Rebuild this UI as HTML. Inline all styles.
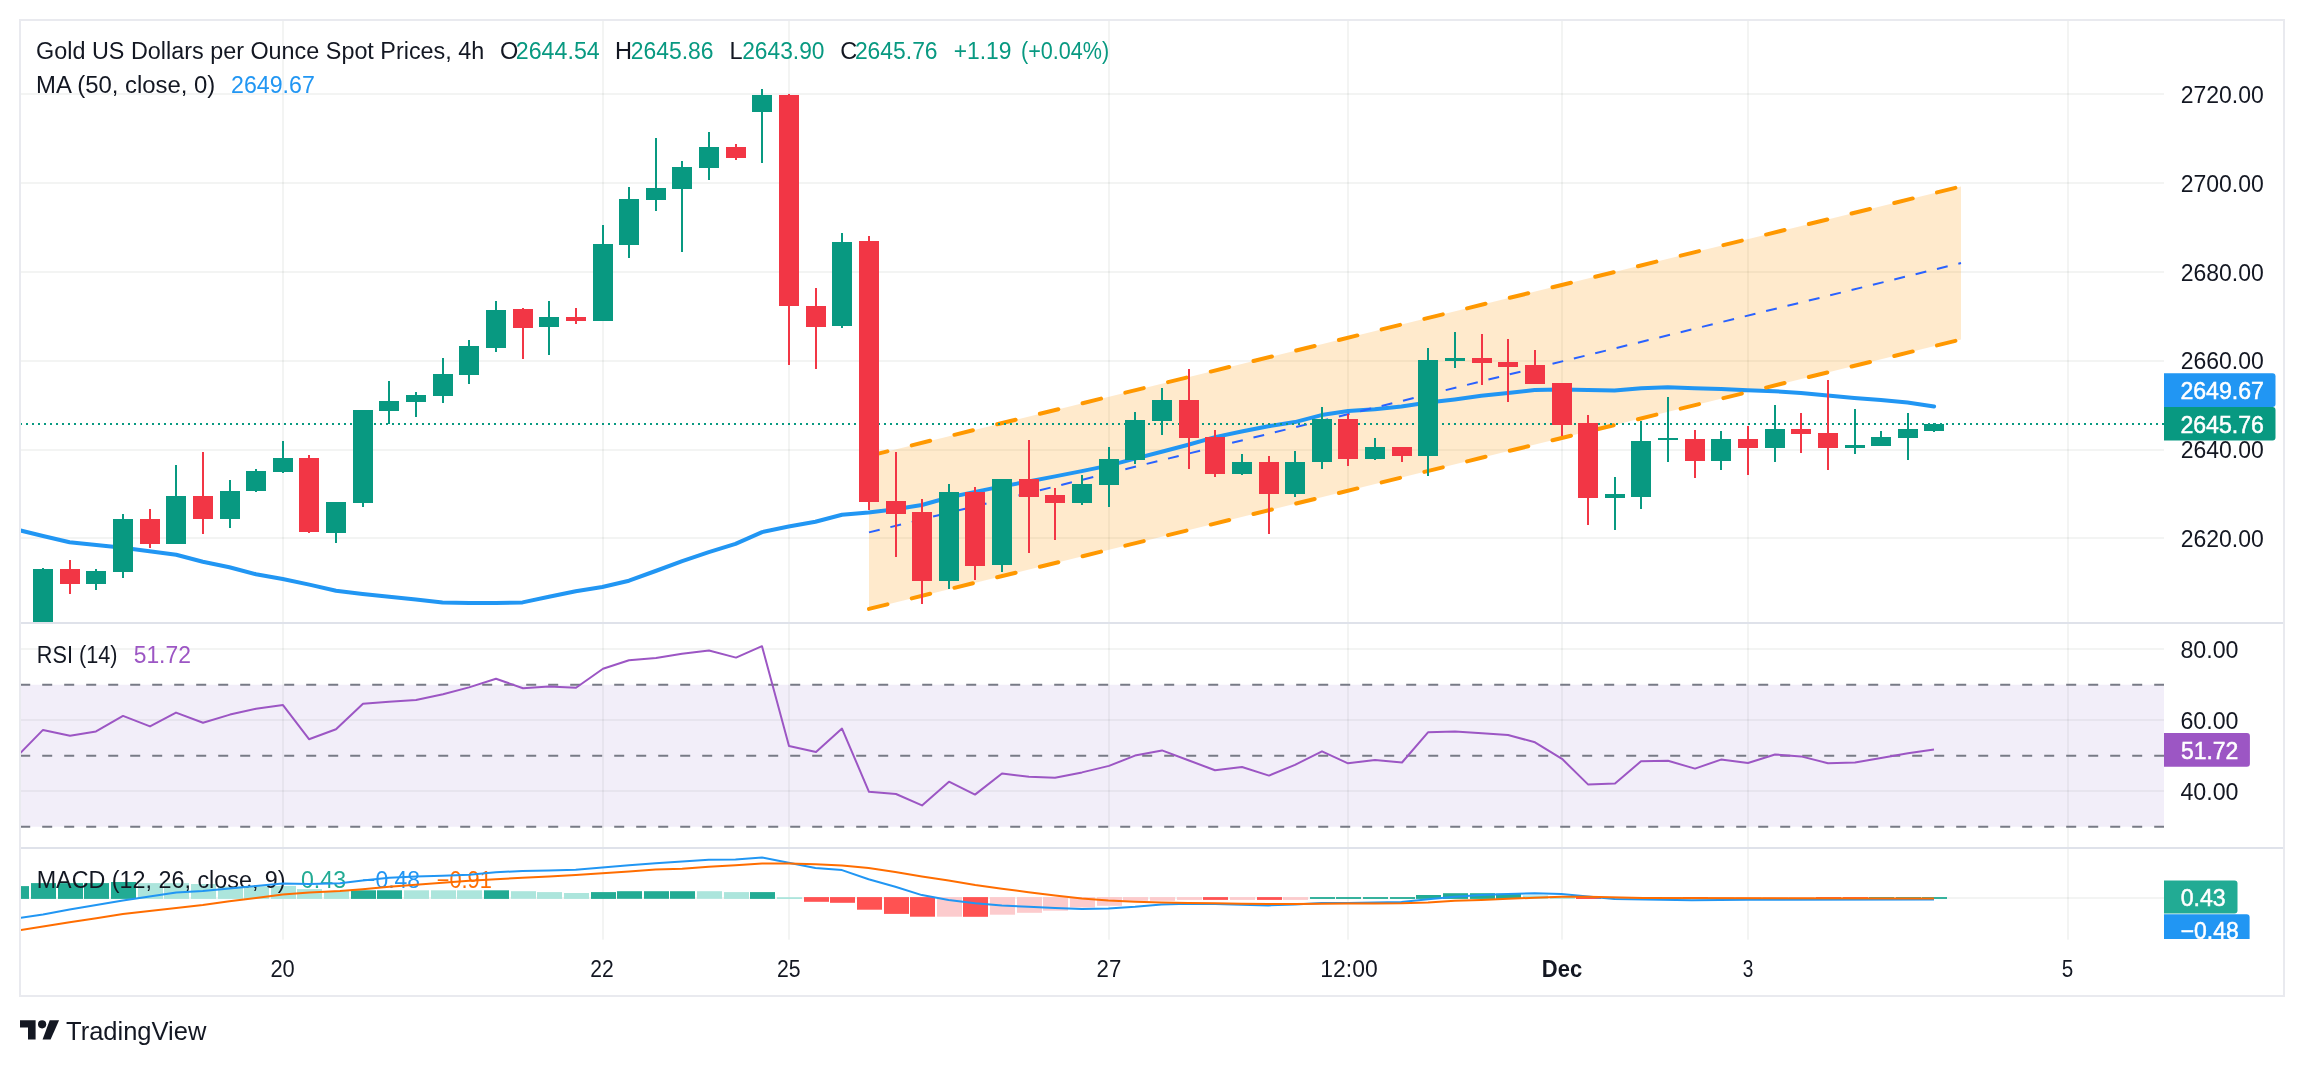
<!DOCTYPE html><html><head><meta charset="utf-8"><style>html,body{margin:0;padding:0;background:#fff;width:2304px;height:1066px;overflow:hidden}svg{display:block;font-family:"Liberation Sans", sans-serif;will-change:transform}</style></head><body>
<svg width="2304" height="1066" viewBox="0 0 2304 1066">
<rect x="0" y="0" width="2304" height="1066" fill="#ffffff"/>
<defs><clipPath id="cMain"><rect x="21" y="21" width="2143" height="601"/></clipPath><clipPath id="cRsi"><rect x="21" y="624" width="2143" height="223"/></clipPath><clipPath id="cMacd"><rect x="21" y="849" width="2143" height="90"/></clipPath><clipPath id="cMacdAxis"><rect x="2164" y="849" width="119" height="90"/></clipPath></defs>
<g fill="#1E3228" fill-opacity="0.056"><rect x="282" y="21" width="2" height="918.7"/><rect x="602" y="21" width="2" height="918.7"/><rect x="788" y="21" width="2" height="918.7"/><rect x="1108" y="21" width="2" height="918.7"/><rect x="1347" y="21" width="2" height="918.7"/><rect x="1561" y="21" width="2" height="918.7"/><rect x="1747" y="21" width="2" height="918.7"/><rect x="2067" y="21" width="2" height="918.7"/><rect x="21" y="93" width="2143" height="2"/><rect x="21" y="182" width="2143" height="2"/><rect x="21" y="271" width="2143" height="2"/><rect x="21" y="360" width="2143" height="2"/><rect x="21" y="449" width="2143" height="2"/><rect x="21" y="537" width="2143" height="2"/><rect x="21" y="648" width="2143" height="2"/><rect x="21" y="719" width="2143" height="2"/><rect x="21" y="790" width="2143" height="2"/><rect x="21" y="897" width="2143" height="2"/></g>
<g clip-path="url(#cMain)">
<polygon points="869.0,455.9 1961.0,186.5 1961.0,339.5 869.0,608.9" fill="#FF9800" fill-opacity="0.2"/>
<polyline points="20.0,530.4 43.0,536.0 69.6,542.2 96.3,545.0 122.9,547.8 149.5,551.2 176.2,554.7 202.8,561.7 229.4,567.2 256.0,574.2 282.7,579.0 309.3,584.6 336.0,590.8 362.6,594.0 389.2,596.8 415.9,599.6 442.5,602.4 469.2,603.0 495.8,603.0 522.5,602.4 549.0,596.8 575.7,591.2 602.3,587.0 629.0,580.7 655.6,571.0 682.2,561.2 708.8,552.2 735.5,543.9 762.1,532.1 788.7,526.5 815.4,521.7 842.0,514.7 868.6,512.6 895.3,509.2 921.9,505.0 948.6,497.5 975.2,491.9 1001.9,486.4 1028.5,481.5 1055.1,476.4 1081.8,471.1 1108.4,465.6 1135.1,458.6 1161.7,451.7 1188.3,444.7 1215.0,437.1 1241.6,431.5 1268.3,426.2 1294.9,422.1 1321.5,415.1 1348.2,411.0 1374.8,409.2 1401.4,406.4 1428.1,402.6 1454.7,399.4 1481.3,395.7 1508.0,392.9 1534.6,390.1 1561.3,389.4 1587.9,390.0 1614.5,390.6 1641.2,388.3 1667.8,387.3 1694.4,388.3 1721.1,389.0 1747.7,390.3 1774.3,391.2 1801.0,392.9 1827.6,395.4 1854.2,397.9 1880.9,400.1 1907.5,402.5 1934.1,406.4" fill="none" stroke="#2196F3" stroke-width="4" stroke-linejoin="round" stroke-linecap="round"/>
<line x1="869" y1="455.9" x2="1961" y2="186.5" stroke="#FF9800" stroke-width="4" stroke-linecap="round" stroke-dasharray="19 25"/>
<line x1="869" y1="608.9" x2="1961" y2="339.5" stroke="#FF9800" stroke-width="4" stroke-linecap="round" stroke-dasharray="19 25"/>
<line x1="869" y1="532.4" x2="1961" y2="263.0" stroke="#2962FF" stroke-width="2" stroke-dasharray="11 11"/>
<line x1="20" y1="424" x2="2164" y2="424" stroke="#089981" stroke-width="2" stroke-dasharray="2 4"/>
<rect x="42" y="568" width="2" height="72" fill="#089981"/><rect x="33" y="569" width="20" height="71" fill="#089981"/><rect x="69" y="560" width="2" height="34" fill="#F23645"/><rect x="60" y="569" width="20" height="15" fill="#F23645"/><rect x="95" y="569" width="2" height="21" fill="#089981"/><rect x="86" y="571" width="20" height="13" fill="#089981"/><rect x="122" y="514" width="2" height="64" fill="#089981"/><rect x="113" y="519" width="20" height="53" fill="#089981"/><rect x="149" y="509" width="2" height="39" fill="#F23645"/><rect x="140" y="519" width="20" height="25" fill="#F23645"/><rect x="175" y="465" width="2" height="79" fill="#089981"/><rect x="166" y="496" width="20" height="48" fill="#089981"/><rect x="202" y="452" width="2" height="82" fill="#F23645"/><rect x="193" y="496" width="20" height="23" fill="#F23645"/><rect x="229" y="480" width="2" height="48" fill="#089981"/><rect x="220" y="491" width="20" height="28" fill="#089981"/><rect x="255" y="469" width="2" height="23" fill="#089981"/><rect x="246" y="471" width="20" height="20" fill="#089981"/><rect x="282" y="441" width="2" height="32" fill="#089981"/><rect x="273" y="458" width="20" height="14" fill="#089981"/><rect x="308" y="455" width="2" height="78" fill="#F23645"/><rect x="299" y="458" width="20" height="74" fill="#F23645"/><rect x="335" y="502" width="2" height="41" fill="#089981"/><rect x="326" y="502" width="20" height="31" fill="#089981"/><rect x="362" y="410" width="2" height="97" fill="#089981"/><rect x="353" y="410" width="20" height="93" fill="#089981"/><rect x="388" y="381" width="2" height="43" fill="#089981"/><rect x="379" y="401" width="20" height="10" fill="#089981"/><rect x="415" y="392" width="2" height="25" fill="#089981"/><rect x="406" y="395" width="20" height="7" fill="#089981"/><rect x="442" y="358" width="2" height="45" fill="#089981"/><rect x="433" y="374" width="20" height="22" fill="#089981"/><rect x="468" y="340" width="2" height="44" fill="#089981"/><rect x="459" y="346" width="20" height="29" fill="#089981"/><rect x="495" y="301" width="2" height="51" fill="#089981"/><rect x="486" y="310" width="20" height="38" fill="#089981"/><rect x="522" y="308" width="2" height="51" fill="#F23645"/><rect x="513" y="309" width="20" height="19" fill="#F23645"/><rect x="548" y="301" width="2" height="54" fill="#089981"/><rect x="539" y="317" width="20" height="10" fill="#089981"/><rect x="575" y="308" width="2" height="16" fill="#F23645"/><rect x="566" y="317" width="20" height="4" fill="#F23645"/><rect x="602" y="225" width="2" height="96" fill="#089981"/><rect x="593" y="244" width="20" height="77" fill="#089981"/><rect x="628" y="187" width="2" height="71" fill="#089981"/><rect x="619" y="199" width="20" height="46" fill="#089981"/><rect x="655" y="138" width="2" height="73" fill="#089981"/><rect x="646" y="188" width="20" height="12" fill="#089981"/><rect x="681" y="161" width="2" height="91" fill="#089981"/><rect x="672" y="167" width="20" height="22" fill="#089981"/><rect x="708" y="132" width="2" height="48" fill="#089981"/><rect x="699" y="147" width="20" height="21" fill="#089981"/><rect x="735" y="144" width="2" height="16" fill="#F23645"/><rect x="726" y="147" width="20" height="11" fill="#F23645"/><rect x="761" y="89" width="2" height="74" fill="#089981"/><rect x="752" y="95" width="20" height="17" fill="#089981"/><rect x="788" y="94" width="2" height="271" fill="#F23645"/><rect x="779" y="95" width="20" height="211" fill="#F23645"/><rect x="815" y="288" width="2" height="81" fill="#F23645"/><rect x="806" y="306" width="20" height="21" fill="#F23645"/><rect x="841" y="233" width="2" height="95" fill="#089981"/><rect x="832" y="242" width="20" height="84" fill="#089981"/><rect x="868" y="236" width="2" height="274" fill="#F23645"/><rect x="859" y="241" width="20" height="261" fill="#F23645"/><rect x="895" y="452" width="2" height="105" fill="#F23645"/><rect x="886" y="501" width="20" height="13" fill="#F23645"/><rect x="921" y="499" width="2" height="105" fill="#F23645"/><rect x="912" y="512" width="20" height="69" fill="#F23645"/><rect x="948" y="484" width="2" height="105" fill="#089981"/><rect x="939" y="492" width="20" height="89" fill="#089981"/><rect x="974" y="487" width="2" height="93" fill="#F23645"/><rect x="965" y="492" width="20" height="74" fill="#F23645"/><rect x="1001" y="479" width="2" height="93" fill="#089981"/><rect x="992" y="479" width="20" height="86" fill="#089981"/><rect x="1028" y="440" width="2" height="113" fill="#F23645"/><rect x="1019" y="479" width="20" height="18" fill="#F23645"/><rect x="1054" y="488" width="2" height="52" fill="#F23645"/><rect x="1045" y="495" width="20" height="8" fill="#F23645"/><rect x="1081" y="475" width="2" height="30" fill="#089981"/><rect x="1072" y="484" width="20" height="19" fill="#089981"/><rect x="1108" y="447" width="2" height="60" fill="#089981"/><rect x="1099" y="459" width="20" height="26" fill="#089981"/><rect x="1134" y="412" width="2" height="52" fill="#089981"/><rect x="1125" y="420" width="20" height="40" fill="#089981"/><rect x="1161" y="388" width="2" height="47" fill="#089981"/><rect x="1152" y="400" width="20" height="21" fill="#089981"/><rect x="1188" y="369" width="2" height="100" fill="#F23645"/><rect x="1179" y="400" width="20" height="38" fill="#F23645"/><rect x="1214" y="430" width="2" height="47" fill="#F23645"/><rect x="1205" y="437" width="20" height="37" fill="#F23645"/><rect x="1241" y="454" width="2" height="21" fill="#089981"/><rect x="1232" y="462" width="20" height="12" fill="#089981"/><rect x="1268" y="456" width="2" height="78" fill="#F23645"/><rect x="1259" y="462" width="20" height="32" fill="#F23645"/><rect x="1294" y="451" width="2" height="46" fill="#089981"/><rect x="1285" y="462" width="20" height="32" fill="#089981"/><rect x="1321" y="407" width="2" height="62" fill="#089981"/><rect x="1312" y="419" width="20" height="43" fill="#089981"/><rect x="1347" y="414" width="2" height="52" fill="#F23645"/><rect x="1338" y="419" width="20" height="40" fill="#F23645"/><rect x="1374" y="438" width="2" height="22" fill="#089981"/><rect x="1365" y="447" width="20" height="12" fill="#089981"/><rect x="1401" y="447" width="2" height="15" fill="#F23645"/><rect x="1392" y="447" width="20" height="9" fill="#F23645"/><rect x="1427" y="348" width="2" height="128" fill="#089981"/><rect x="1418" y="360" width="20" height="96" fill="#089981"/><rect x="1454" y="332" width="2" height="36" fill="#089981"/><rect x="1445" y="358" width="20" height="3" fill="#089981"/><rect x="1481" y="334" width="2" height="51" fill="#F23645"/><rect x="1472" y="358" width="20" height="5" fill="#F23645"/><rect x="1507" y="339" width="2" height="63" fill="#F23645"/><rect x="1498" y="362" width="20" height="5" fill="#F23645"/><rect x="1534" y="350" width="2" height="34" fill="#F23645"/><rect x="1525" y="365" width="20" height="19" fill="#F23645"/><rect x="1561" y="383" width="2" height="53" fill="#F23645"/><rect x="1552" y="383" width="20" height="42" fill="#F23645"/><rect x="1587" y="415" width="2" height="110" fill="#F23645"/><rect x="1578" y="423" width="20" height="75" fill="#F23645"/><rect x="1614" y="477" width="2" height="53" fill="#089981"/><rect x="1605" y="494" width="20" height="4" fill="#089981"/><rect x="1640" y="421" width="2" height="88" fill="#089981"/><rect x="1631" y="441" width="20" height="56" fill="#089981"/><rect x="1667" y="397" width="2" height="65" fill="#089981"/><rect x="1658" y="438" width="20" height="2" fill="#089981"/><rect x="1694" y="430" width="2" height="48" fill="#F23645"/><rect x="1685" y="439" width="20" height="22" fill="#F23645"/><rect x="1720" y="431" width="2" height="39" fill="#089981"/><rect x="1711" y="439" width="20" height="22" fill="#089981"/><rect x="1747" y="426" width="2" height="49" fill="#F23645"/><rect x="1738" y="439" width="20" height="9" fill="#F23645"/><rect x="1774" y="405" width="2" height="57" fill="#089981"/><rect x="1765" y="429" width="20" height="19" fill="#089981"/><rect x="1800" y="413" width="2" height="40" fill="#F23645"/><rect x="1791" y="429" width="20" height="5" fill="#F23645"/><rect x="1827" y="380" width="2" height="90" fill="#F23645"/><rect x="1818" y="433" width="20" height="15" fill="#F23645"/><rect x="1854" y="409" width="2" height="45" fill="#089981"/><rect x="1845" y="445" width="20" height="3" fill="#089981"/><rect x="1880" y="431" width="2" height="15" fill="#089981"/><rect x="1871" y="437" width="20" height="9" fill="#089981"/><rect x="1907" y="413" width="2" height="47" fill="#089981"/><rect x="1898" y="429" width="20" height="9" fill="#089981"/><rect x="1933" y="423" width="2" height="9" fill="#089981"/><rect x="1924" y="424" width="20" height="7" fill="#089981"/>
</g>
<g clip-path="url(#cRsi)">
<rect x="21" y="684.8" width="2143" height="142" fill="#7E57C2" fill-opacity="0.1"/>
<line x1="20.2" y1="684.8" x2="2164" y2="684.8" stroke="#787B86" stroke-width="2" stroke-dasharray="10 12"/>
<line x1="20.2" y1="755.8" x2="2164" y2="755.8" stroke="#787B86" stroke-width="2" stroke-dasharray="10 12"/>
<line x1="20.2" y1="826.8" x2="2164" y2="826.8" stroke="#787B86" stroke-width="2" stroke-dasharray="10 12"/>
<polyline points="20.0,753.4 43.0,729.9 70.0,735.7 96.0,731.4 123.0,715.9 150.0,726.4 176.0,712.6 203.0,722.8 230.0,714.6 256.0,708.7 283.0,705.1 309.0,739.2 336.0,729.2 363.0,703.8 389.0,701.8 416.0,700.1 443.0,694.3 469.0,687.4 496.0,678.7 523.0,688.3 549.0,686.5 576.0,687.8 603.0,668.8 629.0,660.2 656.0,658.0 682.0,653.7 709.0,650.5 736.0,657.6 762.0,646.2 789.0,745.9 816.0,751.9 842.0,728.6 869.0,791.8 896.0,794.0 922.0,805.4 949.0,781.7 975.0,794.6 1002.0,773.5 1029.0,776.7 1055.0,777.8 1082.0,772.4 1109.0,765.9 1135.0,755.6 1162.0,750.4 1189.0,760.5 1215.0,770.2 1242.0,767.0 1269.0,775.6 1295.0,764.8 1322.0,751.3 1348.0,763.3 1375.0,759.9 1402.0,762.5 1428.0,732.3 1455.0,731.6 1482.0,733.3 1508.0,735.0 1535.0,742.3 1562.0,758.8 1588.0,784.4 1615.0,783.6 1641.0,761.3 1668.0,760.8 1695.0,768.6 1721.0,759.6 1748.0,763.0 1775.0,754.5 1801.0,756.4 1828.0,763.2 1855.0,762.5 1881.0,758.1 1908.0,753.2 1934.0,749.6" fill="none" stroke="#9C56C4" stroke-width="2" stroke-linejoin="round"/>
</g>
<g clip-path="url(#cMacd)">
<rect x="4.0" y="886.1" width="25" height="12.8" fill="#22AB94"/><rect x="31.0" y="883.1" width="25" height="15.8" fill="#22AB94"/><rect x="58.0" y="883.1" width="25" height="15.8" fill="#22AB94"/><rect x="84.0" y="883.1" width="25" height="15.8" fill="#22AB94"/><rect x="111.0" y="882.0" width="25" height="16.9" fill="#22AB94"/><rect x="138.0" y="883.1" width="25" height="15.8" fill="#ACE5DC"/><rect x="164.0" y="883.1" width="25" height="15.8" fill="#ACE5DC"/><rect x="191.0" y="884.0" width="25" height="14.9" fill="#ACE5DC"/><rect x="218.0" y="886.5" width="25" height="12.4" fill="#ACE5DC"/><rect x="244.0" y="886.3" width="25" height="12.6" fill="#ACE5DC"/><rect x="271.0" y="885.9" width="25" height="13.0" fill="#ACE5DC"/><rect x="297.0" y="889.1" width="25" height="9.8" fill="#ACE5DC"/><rect x="324.0" y="891.0" width="25" height="7.9" fill="#ACE5DC"/><rect x="351.0" y="890.3" width="25" height="8.6" fill="#22AB94"/><rect x="377.0" y="890.3" width="25" height="8.6" fill="#22AB94"/><rect x="404.0" y="890.3" width="25" height="8.6" fill="#ACE5DC"/><rect x="431.0" y="890.3" width="25" height="8.6" fill="#ACE5DC"/><rect x="457.0" y="890.3" width="25" height="8.6" fill="#ACE5DC"/><rect x="484.0" y="890.3" width="25" height="8.6" fill="#22AB94"/><rect x="511.0" y="891.2" width="25" height="7.6" fill="#ACE5DC"/><rect x="537.0" y="892.1" width="25" height="6.8" fill="#ACE5DC"/><rect x="564.0" y="893.0" width="25" height="5.9" fill="#ACE5DC"/><rect x="591.0" y="892.1" width="25" height="6.8" fill="#22AB94"/><rect x="617.0" y="891.2" width="25" height="7.6" fill="#22AB94"/><rect x="644.0" y="891.2" width="25" height="7.6" fill="#22AB94"/><rect x="670.0" y="891.2" width="25" height="7.6" fill="#22AB94"/><rect x="697.0" y="891.2" width="25" height="7.6" fill="#ACE5DC"/><rect x="724.0" y="892.1" width="25" height="6.8" fill="#ACE5DC"/><rect x="750.0" y="892.1" width="25" height="6.8" fill="#22AB94"/><rect x="777.0" y="897.2" width="25" height="1.8" fill="#ACE5DC"/><rect x="804.0" y="897.1" width="25" height="4.7" fill="#FF5252"/><rect x="830.0" y="897.1" width="25" height="5.7" fill="#FF5252"/><rect x="857.0" y="897.1" width="25" height="12.6" fill="#FF5252"/><rect x="884.0" y="897.1" width="25" height="16.8" fill="#FF5252"/><rect x="910.0" y="897.1" width="25" height="19.6" fill="#FF5252"/><rect x="937.0" y="897.1" width="25" height="19.6" fill="#FCCBCD"/><rect x="963.0" y="897.1" width="25" height="19.7" fill="#FF5252"/><rect x="990.0" y="897.1" width="25" height="17.6" fill="#FCCBCD"/><rect x="1017.0" y="897.1" width="25" height="15.7" fill="#FCCBCD"/><rect x="1043.0" y="897.1" width="25" height="13.6" fill="#FCCBCD"/><rect x="1070.0" y="897.1" width="25" height="10.4" fill="#FCCBCD"/><rect x="1097.0" y="897.1" width="25" height="8.7" fill="#FCCBCD"/><rect x="1123.0" y="897.1" width="25" height="3.7" fill="#FCCBCD"/><rect x="1150.0" y="897.1" width="25" height="3.7" fill="#FCCBCD"/><rect x="1177.0" y="897.1" width="25" height="2.8" fill="#FCCBCD"/><rect x="1203.0" y="897.1" width="25" height="2.8" fill="#FF5252"/><rect x="1230.0" y="897.1" width="25" height="2.8" fill="#FCCBCD"/><rect x="1257.0" y="897.1" width="25" height="2.8" fill="#FF5252"/><rect x="1283.0" y="897.1" width="25" height="2.8" fill="#FCCBCD"/><rect x="1310.0" y="897.1" width="25" height="1.8" fill="#22AB94"/><rect x="1336.0" y="897.1" width="25" height="1.8" fill="#22AB94"/><rect x="1363.0" y="897.1" width="25" height="1.8" fill="#22AB94"/><rect x="1390.0" y="897.1" width="25" height="1.8" fill="#22AB94"/><rect x="1416.0" y="895.0" width="25" height="3.9" fill="#22AB94"/><rect x="1443.0" y="893.2" width="25" height="5.7" fill="#22AB94"/><rect x="1470.0" y="893.2" width="25" height="5.7" fill="#22AB94"/><rect x="1496.0" y="893.6" width="25" height="5.3" fill="#22AB94"/><rect x="1523.0" y="895.4" width="25" height="3.5" fill="#ACE5DC"/><rect x="1550.0" y="896.1" width="25" height="2.8" fill="#ACE5DC"/><rect x="1576.0" y="897.1" width="25" height="1.9" fill="#FF5252"/><rect x="1603.0" y="897.1" width="25" height="1.9" fill="#FCCBCD"/><rect x="1629.0" y="897.1" width="25" height="1.9" fill="#FCCBCD"/><rect x="1656.0" y="897.1" width="25" height="1.9" fill="#FCCBCD"/><rect x="1683.0" y="897.1" width="25" height="1.9" fill="#FF5252"/><rect x="1709.0" y="897.1" width="25" height="1.9" fill="#FCCBCD"/><rect x="1736.0" y="897.1" width="25" height="1.9" fill="#FCCBCD"/><rect x="1763.0" y="897.1" width="25" height="1.9" fill="#FCCBCD"/><rect x="1789.0" y="897.1" width="25" height="1.9" fill="#FCCBCD"/><rect x="1816.0" y="897.1" width="25" height="1.9" fill="#FF5252"/><rect x="1843.0" y="897.1" width="25" height="1.9" fill="#FF5252"/><rect x="1869.0" y="897.1" width="25" height="1.8" fill="#22AB94"/><rect x="1896.0" y="897.1" width="25" height="1.8" fill="#22AB94"/><rect x="1922.0" y="897.1" width="25" height="1.8" fill="#22AB94"/>
</g>
<text x="36.7" y="887.5" fill="#131722" font-size="23.5" text-anchor="start" textLength="248.9" lengthAdjust="spacingAndGlyphs" >MACD (12, 26, close, 9)</text>
<text x="301.0" y="887.5" fill="#22AB94" font-size="23.5" text-anchor="start" textLength="45.0" lengthAdjust="spacingAndGlyphs" >0.43</text>
<text x="362.0" y="887.5" fill="#2196F3" font-size="23.5" text-anchor="start" textLength="58.0" lengthAdjust="spacingAndGlyphs" >−0.48</text>
<text x="436.7" y="887.5" fill="#FF6D00" font-size="23.5" text-anchor="start" textLength="55.2" lengthAdjust="spacingAndGlyphs" >−0.91</text>
<g clip-path="url(#cMacd)">
<polyline points="20.0,917.8 43.0,914.4 69.6,909.5 96.3,905.0 122.9,900.5 149.5,896.4 176.2,892.6 202.8,891.1 229.4,888.5 256.0,885.9 282.7,883.6 309.3,883.9 340.0,883.3 362.6,880.6 389.2,877.8 415.9,876.4 442.5,875.7 469.2,874.7 495.8,872.2 522.5,871.1 549.0,870.4 575.7,869.7 602.3,867.6 629.0,865.3 655.6,863.3 682.2,861.4 708.8,859.7 735.5,859.4 762.1,857.6 788.7,862.8 815.4,868.1 842.0,870.1 868.6,879.2 895.3,886.8 921.9,895.1 948.6,900.0 975.2,903.3 1001.9,905.4 1028.5,906.8 1055.1,907.9 1081.8,908.9 1108.4,908.6 1135.1,906.8 1161.7,904.4 1188.3,903.8 1215.0,904.0 1241.6,904.7 1268.3,905.4 1294.9,904.4 1321.5,903.0 1348.2,902.9 1374.8,902.6 1401.4,901.9 1428.1,899.2 1454.7,896.7 1481.3,895.0 1508.0,893.9 1534.6,893.3 1561.3,893.9 1587.9,896.4 1614.5,899.1 1691.7,900.3 1747.6,899.8 1934.0,899.6" fill="none" stroke="#2196F3" stroke-width="2" stroke-linejoin="round"/>
<polyline points="20.0,930.2 43.0,926.4 69.6,922.3 96.3,918.2 122.9,914.0 149.5,911.0 176.2,907.9 202.8,904.9 229.4,901.3 256.0,897.9 282.7,894.5 309.3,892.6 340.0,891.0 362.6,889.2 389.2,886.8 415.9,884.7 442.5,882.8 469.2,880.8 495.8,879.2 522.5,877.8 549.0,876.4 575.7,875.0 602.3,873.3 629.0,871.5 655.6,869.6 682.2,868.8 708.8,866.7 735.5,865.3 762.1,863.6 788.7,863.5 815.4,864.3 842.0,865.6 868.6,868.1 895.3,871.9 921.9,876.4 948.6,880.6 975.2,885.0 1001.9,888.8 1028.5,892.2 1055.1,895.4 1081.8,898.5 1108.4,900.6 1135.1,901.7 1161.7,902.6 1188.3,903.1 1215.0,903.3 1241.6,903.8 1268.3,904.0 1294.9,904.0 1321.5,903.8 1348.2,903.6 1374.8,903.6 1401.4,903.3 1428.1,902.4 1454.7,900.8 1481.3,899.9 1508.0,898.8 1534.6,897.8 1561.3,896.8 1587.9,896.8 1643.0,898.0 1934.0,898.6" fill="none" stroke="#FF6D00" stroke-width="2" stroke-linejoin="round"/>
</g>
<rect x="20" y="20" width="2264" height="976" fill="none" stroke="#E9EAEF" stroke-width="2"/>
<rect x="21" y="622" width="2262" height="2" fill="#DFE2EA"/>
<rect x="21" y="847" width="2262" height="2" fill="#DFE2EA"/>
<text x="36.1" y="58.6" fill="#131722" font-size="23.5" text-anchor="start" textLength="448.2" lengthAdjust="spacingAndGlyphs" >Gold US Dollars per Ounce Spot Prices, 4h</text>
<text x="500.0" y="58.6" fill="#131722" font-size="23.5" text-anchor="start" >O</text>
<text x="515.8" y="58.6" fill="#089981" font-size="23.5" text-anchor="start" textLength="83.9" lengthAdjust="spacingAndGlyphs" >2644.54</text>
<text x="614.9" y="58.6" fill="#131722" font-size="23.5" text-anchor="start" >H</text>
<text x="630.7" y="58.6" fill="#089981" font-size="23.5" text-anchor="start" textLength="82.9" lengthAdjust="spacingAndGlyphs" >2645.86</text>
<text x="729.4" y="58.6" fill="#131722" font-size="23.5" text-anchor="start" >L</text>
<text x="742.2" y="58.6" fill="#089981" font-size="23.5" text-anchor="start" textLength="82.3" lengthAdjust="spacingAndGlyphs" >2643.90</text>
<text x="840.3" y="58.6" fill="#131722" font-size="23.5" text-anchor="start" >C</text>
<text x="854.9" y="58.6" fill="#089981" font-size="23.5" text-anchor="start" textLength="82.7" lengthAdjust="spacingAndGlyphs" >2645.76</text>
<text x="953.7" y="58.6" fill="#089981" font-size="23.5" text-anchor="start" textLength="57.7" lengthAdjust="spacingAndGlyphs" >+1.19</text>
<text x="1021.0" y="58.6" fill="#089981" font-size="23.5" text-anchor="start" textLength="88.2" lengthAdjust="spacingAndGlyphs" >(+0.04%)</text>
<text x="36.1" y="93.0" fill="#131722" font-size="23.5" text-anchor="start" textLength="179.2" lengthAdjust="spacingAndGlyphs" >MA (50, close, 0)</text>
<text x="231.0" y="93.0" fill="#2196F3" font-size="23.5" text-anchor="start" textLength="83.8" lengthAdjust="spacingAndGlyphs" >2649.67</text>
<text x="36.8" y="663.4" fill="#131722" font-size="23.5" text-anchor="start" textLength="80.7" lengthAdjust="spacingAndGlyphs" >RSI (14)</text>
<text x="133.7" y="663.4" fill="#9C56C4" font-size="23.5" text-anchor="start" textLength="57.2" lengthAdjust="spacingAndGlyphs" >51.72</text>
<text x="2180.7" y="102.7" fill="#131722" font-size="23.5" text-anchor="start" textLength="83.1" lengthAdjust="spacingAndGlyphs" >2720.00</text>
<text x="2180.7" y="191.6" fill="#131722" font-size="23.5" text-anchor="start" textLength="83.1" lengthAdjust="spacingAndGlyphs" >2700.00</text>
<text x="2180.7" y="280.5" fill="#131722" font-size="23.5" text-anchor="start" textLength="83.1" lengthAdjust="spacingAndGlyphs" >2680.00</text>
<text x="2180.7" y="369.4" fill="#131722" font-size="23.5" text-anchor="start" textLength="83.1" lengthAdjust="spacingAndGlyphs" >2660.00</text>
<text x="2180.7" y="458.3" fill="#131722" font-size="23.5" text-anchor="start" textLength="83.1" lengthAdjust="spacingAndGlyphs" >2640.00</text>
<text x="2180.7" y="547.2" fill="#131722" font-size="23.5" text-anchor="start" textLength="83.1" lengthAdjust="spacingAndGlyphs" >2620.00</text>
<path d="M2164,373.2 H2272.5 a3,3 0 0 1 3,3 V404 a3,3 0 0 1 -3,3 H2164 Z" fill="#2196F3"/>
<text x="2180.4" y="398.9" fill="#fff" font-size="23.5" text-anchor="start" textLength="83.6" lengthAdjust="spacingAndGlyphs" stroke="#fff" stroke-width="0.5">2649.67</text>
<path d="M2164,407 H2272.5 a3,3 0 0 1 3,3 V437.5 a3,3 0 0 1 -3,3 H2164 Z" fill="#089981"/>
<text x="2180.4" y="432.6" fill="#fff" font-size="23.5" text-anchor="start" textLength="83.6" lengthAdjust="spacingAndGlyphs" stroke="#fff" stroke-width="0.5">2645.76</text>
<text x="2180.4" y="658.3" fill="#131722" font-size="23.5" text-anchor="start" textLength="58.1" lengthAdjust="spacingAndGlyphs" >80.00</text>
<text x="2180.4" y="729.3" fill="#131722" font-size="23.5" text-anchor="start" textLength="58.1" lengthAdjust="spacingAndGlyphs" >60.00</text>
<text x="2180.4" y="800.3" fill="#131722" font-size="23.5" text-anchor="start" textLength="58.1" lengthAdjust="spacingAndGlyphs" >40.00</text>
<path d="M2164,733.1 H2246.9 a3,3 0 0 1 3,3 V763.7 a3,3 0 0 1 -3,3 H2164 Z" fill="#9C56C4"/>
<text x="2180.9" y="759.3" fill="#fff" font-size="23.5" text-anchor="start" textLength="57.5" lengthAdjust="spacingAndGlyphs" stroke="#fff" stroke-width="0.5">51.72</text>
<g clip-path="url(#cMacdAxis)">
<path d="M2164,880.5 H2234.5 a3,3 0 0 1 3,3 V910.5 a3,3 0 0 1 -3,3 H2164 Z" fill="#22AB94"/>
<text x="2180.7" y="905.5" fill="#fff" font-size="23.5" text-anchor="start" textLength="45.0" lengthAdjust="spacingAndGlyphs" stroke="#fff" stroke-width="0.5">0.43</text>
<path d="M2164,914.2 H2246.6 a3,3 0 0 1 3,3 V944 a3,3 0 0 1 -3,3 H2164 Z" fill="#2196F3"/>
<text x="2180.7" y="939.2" fill="#fff" font-size="23.5" text-anchor="start" textLength="58.0" lengthAdjust="spacingAndGlyphs" stroke="#fff" stroke-width="0.5">−0.48</text>
</g>
<text x="282.6" y="977.2" fill="#131722" font-size="23.5" text-anchor="middle" textLength="24.3" lengthAdjust="spacingAndGlyphs" >20</text>
<text x="602.0" y="977.2" fill="#131722" font-size="23.5" text-anchor="middle" textLength="23.4" lengthAdjust="spacingAndGlyphs" >22</text>
<text x="788.7" y="977.2" fill="#131722" font-size="23.5" text-anchor="middle" textLength="23.6" lengthAdjust="spacingAndGlyphs" >25</text>
<text x="1108.9" y="977.2" fill="#131722" font-size="23.5" text-anchor="middle" textLength="24.7" lengthAdjust="spacingAndGlyphs" >27</text>
<text x="1349.0" y="977.2" fill="#131722" font-size="23.5" text-anchor="middle" textLength="57.3" lengthAdjust="spacingAndGlyphs" >12:00</text>
<text x="1748.0" y="977.2" fill="#131722" font-size="23.5" text-anchor="middle" textLength="10.6" lengthAdjust="spacingAndGlyphs" >3</text>
<text x="2067.5" y="977.2" fill="#131722" font-size="23.5" text-anchor="middle" textLength="11.5" lengthAdjust="spacingAndGlyphs" >5</text>
<text x="1562.0" y="977.2" fill="#131722" font-size="23.5" text-anchor="middle" font-weight="bold" textLength="40.3" lengthAdjust="spacingAndGlyphs" >Dec</text>
<g fill="#131722"><path d="M20,1020.2 H35.6 V1039.5 H28 V1027.4 H20 Z"/><circle cx="42.1" cy="1024.3" r="4.1"/><path d="M49.7,1020.2 H59.1 L50.6,1039.5 H42.6 Z"/></g>
<text x="66.0" y="1039.7" fill="#131722" font-size="25.8" text-anchor="start" textLength="140.4" lengthAdjust="spacingAndGlyphs" >TradingView</text>
</svg></body></html>
